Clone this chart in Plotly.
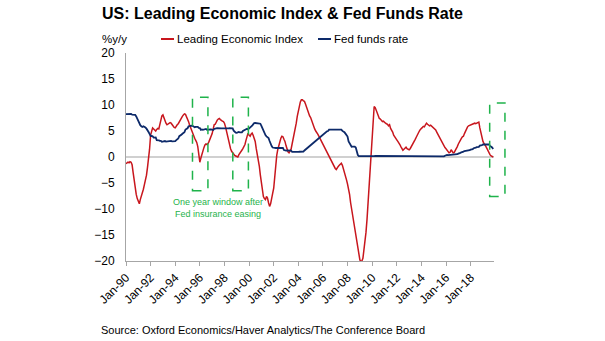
import pandas as pd
import plotly.graph_objects as go

# US Conference Board Leading Economic Index, % y/y (monthly, Jan-1990 onwards)
lei_1990s = [
    -1.3, -1.2, -1.0, -1.1, -0.9, -1.0, -1.5, -3.0, -4.6, -6.0, -7.2, -8.0,
    -8.6, -9.0, -8.2, -7.6, -7.2, -6.2, -5.3, -4.6, -3.5, -2.0, -0.5, 1.5,
    4.2, 5.2, 5.6, 5.4, 5.2, 5.0, 5.3, 5.5, 5.4, 6.2, 7.2, 7.9,
    8.1, 7.5, 6.8, 6.5, 6.2, 6.3, 6.5, 6.6, 6.5, 6.2, 5.8, 5.7,
    5.6, 6.0, 6.2, 6.4, 6.8, 7.1, 7.4, 7.8, 8.1, 8.3, 8.2, 7.8,
    7.2, 6.8, 6.2, 5.6, 5.0, 4.4, 4.0, 3.6, 3.2, 2.8, 2.0, 0.9,
    -1.0, -0.2, 0.6, 1.2, 1.8, 2.3, 2.5, 2.4, 2.6, 3.0, 3.4, 3.9,
    4.5, 5.4, 6.2, 6.3, 6.8, 7.1, 7.3, 7.4, 7.2, 7.0, 6.9, 6.8,
    6.5, 5.8, 4.9, 4.0, 3.0, 2.1, 1.6, 1.1, 0.8, 0.5, 0.3, 0.2,
    0.1, 0.0, 0.4, 0.8, 1.1, 1.3, 1.6, 1.9, 2.4, 3.2, 4.0, 4.6,
]
lei_2000s = [
    4.2, 4.0, 4.4, 4.6, 4.2, 3.6, 3.0, 1.6, 0.5, -0.4, -1.8, -3.5,
    -5.0, -6.5, -7.6, -8.0, -8.2, -7.6, -7.9, -8.8, -9.5, -9.0, -8.2, -7.0,
    -6.0, -3.5, -1.0, 0.3, 1.4, 2.2, 3.0, 3.6, 4.0, 3.9, 3.4, 3.0,
    2.2, 1.5, 1.0, 0.8, 1.3, 1.5, 2.5, 3.4, 4.5, 5.5, 6.5, 7.8,
    9.0, 9.8, 10.6, 11.0, 11.0, 10.8, 10.7, 10.2, 9.5, 9.0, 8.4, 7.9,
    7.6, 7.0, 6.3, 5.9, 5.4, 5.0, 4.8, 4.4, 4.0, 3.6, 3.2, 2.8,
    2.4, 2.0, 1.6, 1.2, 0.8, 0.4, 0.2, -0.2, -0.6, -1.0, -1.5, -2.0,
    -2.2, -2.4, -2.0, -1.8, -1.6, -1.3, -1.2, -1.6, -2.2, -2.8, -3.5, -4.4,
    -5.2, -6.0, -7.2, -8.8, -10.0, -11.2, -12.5, -13.8, -15.2, -16.6, -18.0, -19.2,
    -19.8, -20.1, -20.0, -19.5, -18.0, -16.5, -14.5, -12.0, -8.5, -5.0, -1.5, 1.5,
]
lei_2010s = [
    5.0, 8.0, 9.7, 9.5, 9.0, 8.4, 7.8, 7.4, 7.3, 7.0, 6.8, 6.9,
    6.6, 6.5, 6.4, 6.3, 6.0, 6.2, 5.5, 5.2, 4.8, 4.2, 3.8, 3.5,
    3.3, 3.0, 2.8, 2.4, 2.0, 1.6, 1.3, 1.5, 1.8, 1.9, 1.6, 1.4,
    1.4, 1.6, 2.0, 2.4, 2.8, 3.2, 3.4, 3.8, 4.3, 4.6, 5.0, 5.3,
    5.6, 5.7, 5.9, 5.8, 6.2, 6.5, 6.3, 6.2, 6.0, 6.1, 5.9, 5.9,
    5.7, 5.4, 5.2, 4.8, 4.4, 4.0, 3.6, 3.2, 2.8, 2.5, 2.1, 1.8,
    1.6, 1.3, 1.0, 0.8, 0.9, 1.4, 1.1, 0.8, 0.9, 1.2, 1.5, 2.0,
    2.5, 3.0, 3.3, 3.6, 3.9, 4.0, 4.5, 5.0, 5.6, 5.8, 6.0, 6.1,
    6.2, 6.2, 6.3, 6.4, 6.5, 6.4, 6.5, 6.6, 6.7, 5.6, 4.5, 3.6,
    3.0, 2.6, 2.4, 2.0, 1.6, 1.1, 0.7, 0.4, 0.2, 0.1, 0.0,
]

# Effective federal funds rate, % (monthly, Jan-1990 onwards)
ffr_1990s = [
    8.23, 8.24, 8.28, 8.26, 8.18, 8.29, 8.15, 8.13, 8.20, 8.11, 7.81, 7.31,
    6.91, 6.25, 6.12, 5.91, 5.78, 5.90, 5.82, 5.66, 5.45, 5.21, 4.81, 4.43,
    4.03, 4.06, 3.98, 3.73, 3.82, 3.76, 3.25, 3.30, 3.22, 3.10, 3.09, 2.92,
    3.02, 3.03, 3.07, 2.96, 3.00, 3.04, 3.06, 3.03, 3.09, 2.99, 3.02, 2.96,
    3.05, 3.25, 3.34, 3.56, 4.01, 4.25, 4.26, 4.47, 4.73, 4.76, 5.29, 5.45,
    5.53, 5.92, 5.98, 6.05, 6.01, 6.00, 5.85, 5.74, 5.80, 5.76, 5.80, 5.60,
    5.56, 5.22, 5.31, 5.22, 5.24, 5.27, 5.40, 5.22, 5.30, 5.24, 5.31, 5.29,
    5.25, 5.19, 5.39, 5.51, 5.50, 5.56, 5.52, 5.54, 5.54, 5.50, 5.52, 5.50,
    5.56, 5.51, 5.49, 5.45, 5.49, 5.56, 5.54, 5.55, 5.51, 5.07, 4.83, 4.68,
    4.63, 4.76, 4.81, 4.74, 4.74, 4.76, 4.99, 5.07, 5.22, 5.20, 5.42, 5.30,
]
ffr_2000s = [
    5.45, 5.73, 5.85, 6.02, 6.27, 6.53, 6.54, 6.50, 6.52, 6.51, 6.51, 6.40,
    5.98, 5.49, 5.31, 4.80, 4.21, 3.97, 3.77, 3.65, 3.07, 2.49, 2.09, 1.82,
    1.73, 1.74, 1.73, 1.75, 1.75, 1.75, 1.73, 1.74, 1.75, 1.75, 1.34, 1.24,
    1.24, 1.26, 1.25, 1.26, 1.26, 1.22, 1.01, 1.03, 1.01, 1.01, 1.00, 0.98,
    1.00, 1.01, 1.00, 1.00, 1.00, 1.03, 1.26, 1.43, 1.61, 1.76, 1.93, 2.16,
    2.28, 2.50, 2.63, 2.79, 3.00, 3.04, 3.26, 3.50, 3.62, 3.78, 4.00, 4.16,
    4.29, 4.49, 4.59, 4.79, 4.94, 4.99, 5.24, 5.25, 5.25, 5.25, 5.25, 5.24,
    5.25, 5.26, 5.26, 5.25, 5.25, 5.25, 5.26, 5.02, 4.94, 4.76, 4.49, 4.24,
    3.94, 2.98, 2.61, 2.28, 1.98, 2.00, 2.01, 2.00, 1.81, 0.97, 0.39, 0.16,
    0.15, 0.22, 0.18, 0.15, 0.18, 0.21, 0.16, 0.16, 0.15, 0.12, 0.12, 0.12,
]
ffr_2010s = [
    0.11, 0.13, 0.16, 0.20, 0.20, 0.18, 0.18, 0.19, 0.19, 0.19, 0.19, 0.18,
    0.17, 0.16, 0.14, 0.10, 0.09, 0.09, 0.07, 0.10, 0.08, 0.07, 0.08, 0.07,
    0.08, 0.10, 0.13, 0.14, 0.16, 0.16, 0.16, 0.13, 0.14, 0.16, 0.16, 0.16,
    0.14, 0.15, 0.14, 0.15, 0.11, 0.09, 0.09, 0.08, 0.08, 0.09, 0.08, 0.09,
    0.07, 0.07, 0.08, 0.09, 0.09, 0.10, 0.09, 0.09, 0.09, 0.09, 0.09, 0.12,
    0.11, 0.11, 0.11, 0.12, 0.12, 0.13, 0.13, 0.14, 0.14, 0.12, 0.12, 0.24,
    0.34, 0.38, 0.36, 0.37, 0.37, 0.38, 0.39, 0.40, 0.40, 0.40, 0.41, 0.54,
    0.65, 0.66, 0.79, 0.90, 0.91, 1.04, 1.15, 1.16, 1.15, 1.15, 1.16, 1.30,
    1.41, 1.42, 1.51, 1.69, 1.70, 1.82, 1.91, 1.91, 1.95, 2.19, 2.20, 2.27,
    2.40, 2.40, 2.41, 2.42, 2.39, 2.38, 2.40, 2.13, 2.04, 1.83, 1.55,
]

# One-year windows after Fed "insurance" easing episodes
window_start = ["1995-05-28", "1998-09-05", "2019-07-20"]
window_end = ["1996-08-28", "1999-12-12", "2020-10-15"]
window_low = [-6.5, -6.5, -7.6]
window_high = [11.5, 11.5, 10.4]

lei = lei_1990s + lei_2000s + lei_2010s
ffr = ffr_1990s + ffr_2000s + ffr_2010s
dates = pd.date_range("1990-01-01", periods=len(lei), freq="MS")

RED = "#c8161d"
BLUE = "#0d2a6a"
GREEN = "#1fb34b"
FONT = "Liberation Sans, Arial, sans-serif"

W, H = 605, 341
ML, MR, MT, MB = 126, 111, 53, 80
PW, PH = W - ML - MR, H - MT - MB
x_range = ["1990-01-01", "2019-11-25"]


def paper_x(px):
    return (px - ML) / PW


def paper_y(py):
    return (H - MB - py) / PH


def date_to_paper(d):
    t0, t1 = pd.Timestamp(x_range[0]), pd.Timestamp(x_range[1])
    return (pd.Timestamp(d) - t0) / (t1 - t0)


fig = go.Figure()
fig.add_trace(go.Scatter(x=dates, y=lei, mode="lines", name="Leading Economic Index",
                         line=dict(color=RED, width=1.5), showlegend=False))
fig.add_trace(go.Scatter(x=dates, y=ffr, mode="lines", name="Fed funds rate",
                         line=dict(color=BLUE, width=1.8), showlegend=False))

shapes = []
for s, e, lo, hi in zip(window_start, window_end, window_low, window_high):
    shapes.append(dict(type="rect", xref="paper", yref="y",
                       x0=date_to_paper(s), x1=date_to_paper(e), y0=lo, y1=hi,
                       line=dict(color=GREEN, width=1.5, dash="dash"),
                       fillcolor="rgba(0,0,0,0)", layer="above"))

# legend keys
LEG_Y = 39
shapes.append(dict(type="line", xref="paper", yref="paper",
                   x0=paper_x(161), x1=paper_x(174), y0=paper_y(LEG_Y), y1=paper_y(LEG_Y),
                   line=dict(color=RED, width=2)))
shapes.append(dict(type="line", xref="paper", yref="paper",
                   x0=paper_x(318), x1=paper_x(331), y0=paper_y(LEG_Y), y1=paper_y(LEG_Y),
                   line=dict(color=BLUE, width=2)))

annotations = [
    dict(text="US: Leading Economic Index & Fed Funds Rate", xref="paper", yref="paper",
         x=paper_x(100), y=paper_y(13), xanchor="left", yanchor="middle", showarrow=False,
         font=dict(family=FONT, size=16, color="#000", weight="bold")),
    dict(text="%y/y", xref="paper", yref="paper", x=paper_x(100), y=paper_y(LEG_Y),
         xanchor="left", yanchor="middle", showarrow=False,
         font=dict(family=FONT, size=11.5, color="#000")),
    dict(text="Leading Economic Index", xref="paper", yref="paper", x=paper_x(175), y=paper_y(LEG_Y),
         xanchor="left", yanchor="middle", showarrow=False,
         font=dict(family=FONT, size=11.5, color="#000")),
    dict(text="Fed funds rate", xref="paper", yref="paper", x=paper_x(332), y=paper_y(LEG_Y),
         xanchor="left", yanchor="middle", showarrow=False,
         font=dict(family=FONT, size=11.5, color="#000")),
    dict(text="One year window after<br>Fed insurance easing", xref="paper", yref="paper",
         x=paper_x(217.5), y=paper_y(207.7), xanchor="center", yanchor="middle",
         showarrow=False, align="center",
         font=dict(family=FONT, size=9, color=GREEN)),
    dict(text="Source: Oxford Economics/Haver Analytics/The Conference Board",
         xref="paper", yref="paper", x=paper_x(99), y=paper_y(330),
         xanchor="left", yanchor="middle", showarrow=False,
         font=dict(family=FONT, size=11, color="#000")),
]

fig.update_layout(
    width=W, height=H,
    margin=dict(l=ML, r=MR, t=MT, b=MB),
    paper_bgcolor="white", plot_bgcolor="white",
    font=dict(family=FONT, size=12, color="#000"),
    shapes=shapes, annotations=annotations,
    xaxis=dict(type="date", range=x_range, tick0="1990-01-01", dtick="M24",
               tickformat="%b-%y", tickangle=-45, ticks="outside", ticklen=4,
               tickcolor="#a6a6a6", showline=True, linecolor="#a6a6a6", linewidth=1,
               showgrid=False, zeroline=False, tickfont=dict(size=12, color="#000")),
    yaxis=dict(range=[-20, 20], dtick=5, showline=True, linecolor="#a6a6a6", linewidth=1,
               showgrid=False, zeroline=True, zerolinecolor="#d0d0d0", zerolinewidth=1.5,
               ticks="", ticklabelstandoff=8, tickfont=dict(size=12, color="#000")),
)

fig.write_html("out.html")
